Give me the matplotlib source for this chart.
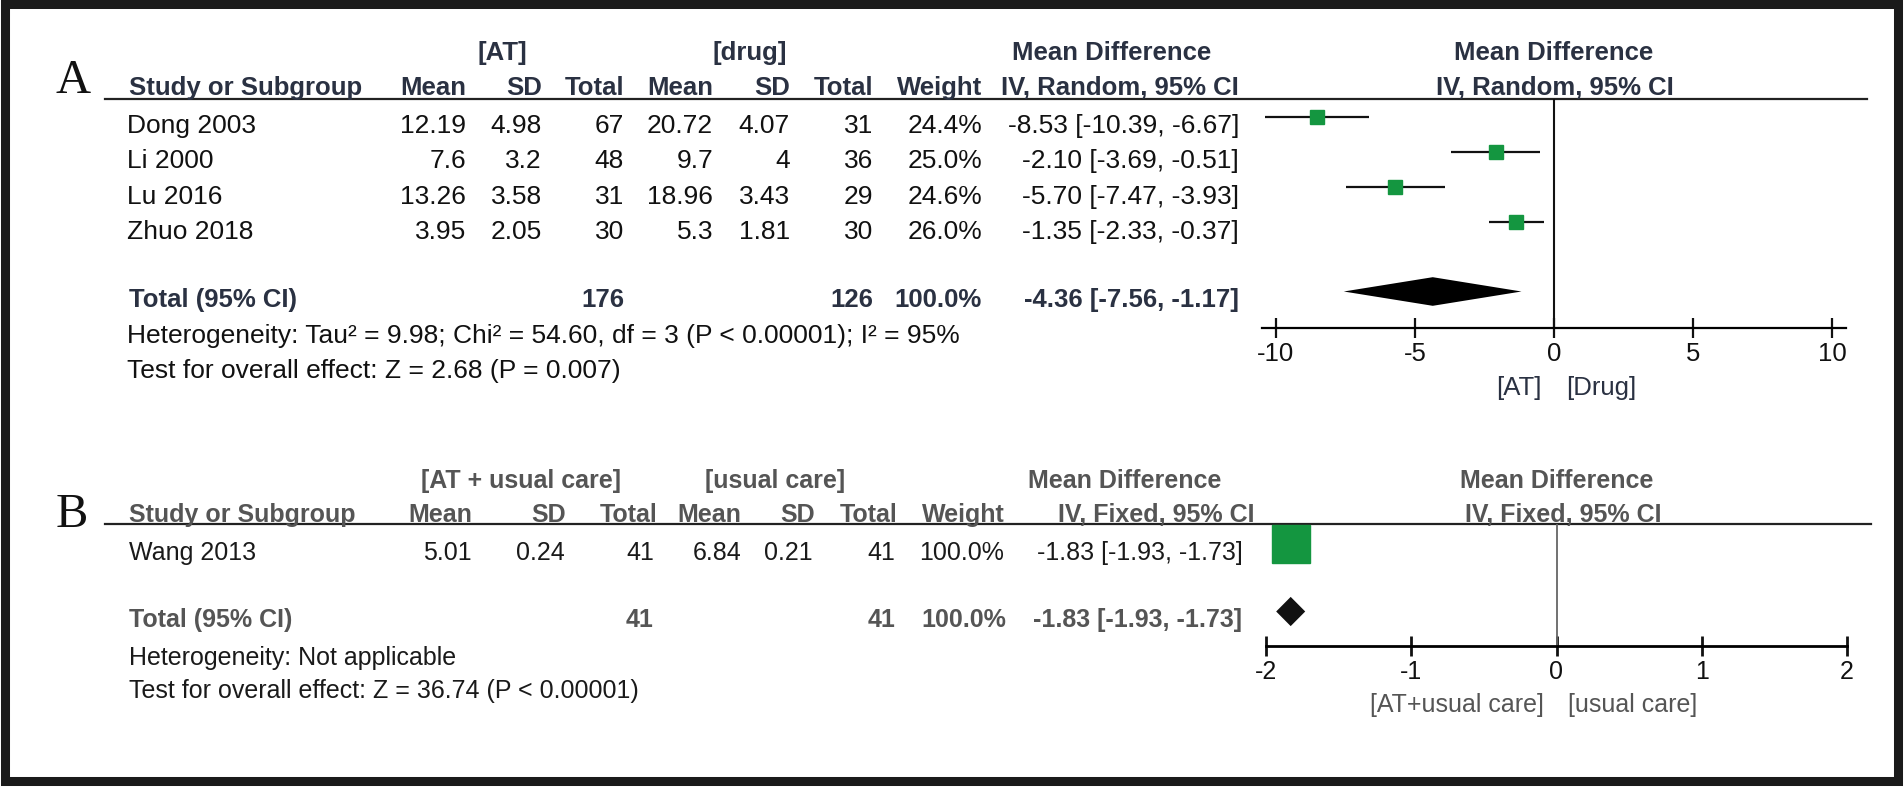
import matplotlib
matplotlib.use("Agg")
import matplotlib.pyplot as plt
from matplotlib.patches import Rectangle

plt.rcParams['font.family'] = ['Liberation Sans', 'DejaVu Sans']
plt.rcParams['axes.unicode_minus'] = False

# Panel A data
studies_a = ['Dong 2003', 'Li 2000', 'Lu 2016', 'Zhuo 2018']
at_mean = [12.19, 7.6, 13.26, 3.95]
at_sd = [4.98, 3.2, 3.58, 2.05]
at_n = [67, 48, 31, 30]
drug_mean = [20.72, 9.7, 18.96, 5.3]
drug_sd = [4.07, 4, 3.43, 1.81]
drug_n = [31, 36, 29, 30]
weight_a = [24.4, 25.0, 24.6, 26.0]
md_a = [-8.53, -2.10, -5.70, -1.35]
lo_a = [-10.39, -3.69, -7.47, -2.33]
hi_a = [-6.67, -0.51, -3.93, -0.37]
total_a = dict(n1=176, n2=126, w=100.0, md=-4.36, lo=-7.56, hi=-1.17)
het_a = "Heterogeneity: Tau² = 9.98; Chi² = 54.60, df = 3 (P < 0.00001); I² = 95%"
test_a = "Test for overall effect: Z = 2.68 (P = 0.007)"
ticks_a = [-10, -5, 0, 5, 10]

# Panel B data
studies_b = ['Wang 2013']
atuc_mean = [5.01]
atuc_sd = [0.24]
atuc_n = [41]
uc_mean = [6.84]
uc_sd = [0.21]
uc_n = [41]
weight_b = [100.0]
md_b = [-1.83]
lo_b = [-1.93]
hi_b = [-1.73]
total_b = dict(n1=41, n2=41, w=100.0, md=-1.83, lo=-1.93, hi=-1.73)
het_b = "Heterogeneity: Not applicable"
test_b = "Test for overall effect: Z = 36.74 (P < 0.00001)"
ticks_b = [-2, -1, 0, 1, 2]

W, H = 1904, 787
fig = plt.figure(figsize=(W / 100, H / 100), dpi=100)
bg = fig.add_axes([0, 0, 1, 1])
bg.set_xlim(0, W)
bg.set_ylim(H, 0)
bg.axis('off')

GREEN = '#149640'
HEAD_A = '#2a3142'
HEAD_B = '#555555'


def px_axes(x0, x1, ytop, ybot):
    ax = fig.add_axes([x0 / W, 1 - ybot / H, (x1 - x0) / W, (ybot - ytop) / H])
    ax.patch.set_alpha(0)
    for s in ['top', 'left', 'right']:
        ax.spines[s].set_visible(False)
    ax.set_yticks([])
    return ax


def fmt_ci(m, l, h):
    return f"{m:.2f} [{l:.2f}, {h:.2f}]"


def txt(x, y, s, ha='left', size=18.5, color='#111111', bold=False, **kw):
    bg.text(x, y, s, ha=ha, va='baseline', fontsize=size, color=color,
            fontweight='bold' if bold else 'normal', **kw)


# ---------------- Panel A ----------------
txt(56, 93, 'A', size=35, color='#111111', family='Liberation Serif')
for s, x in [('[AT]', 502), ('[drug]', 750), ('Mean Difference', 1112), ('Mean Difference', 1554)]:
    txt(x, 60, s, ha='center', color=HEAD_A, bold=True)
txt(129, 95, 'Study or Subgroup', color=HEAD_A, bold=True)
cols_a = [466, 542, 624, 713, 790, 873, 982, 1239]
for s, x in zip(['Mean', 'SD', 'Total', 'Mean', 'SD', 'Total', 'Weight', 'IV, Random, 95% CI'], cols_a):
    txt(x, 95, s, ha='right', color=HEAD_A, bold=True)
txt(1555, 95, 'IV, Random, 95% CI', ha='center', color=HEAD_A, bold=True)
bg.plot([105, 1867], [99, 99], color='#222222', lw=1.6)

for i, name in enumerate(studies_a):
    yb = 133 + i * 35.3
    txt(127, yb, name, size=19)
    vals = [str(at_mean[i]), str(at_sd[i]), str(at_n[i]), str(drug_mean[i]),
            str(drug_sd[i]), str(drug_n[i]), f"{weight_a[i]:.1f}%",
            fmt_ci(md_a[i], lo_a[i], hi_a[i])]
    for v, x in zip(vals, cols_a):
        txt(x, yb, v, ha='right', size=19)

txt(129, 307, 'Total (95% CI)', color=HEAD_A, bold=True)
for v, x in [(str(total_a['n1']), 624), (str(total_a['n2']), 873),
             (f"{total_a['w']:.1f}%", 982),
             (fmt_ci(total_a['md'], total_a['lo'], total_a['hi']), 1239)]:
    txt(x, 307, v, ha='right', color=HEAD_A, bold=True)
txt(127, 343, het_a, size=19)
txt(127, 378, test_a, size=19)

axa = px_axes(1262, 1846, 99, 328)
u = 34.9
axa.set_xlim(-10.5, 10.5)
axa.set_ylim((328 - 117) / u, -18 / u)
rows_a = list(range(len(studies_a)))
axa.hlines(rows_a, lo_a, hi_a, color='#111111', lw=1.6)
for r, m, w in zip(rows_a, md_a, weight_a):
    axa.plot(m, r, 's', ms=10 * (w / 25) ** 0.5, color=GREEN, mec=GREEN)
tr = 5
axa.fill([total_a['lo'], total_a['md'], total_a['hi'], total_a['md']],
         [tr, tr - 0.41, tr, tr + 0.41], color='black', lw=0)
axa.axvline(0, color='#111111', lw=1.5)
axa.spines['bottom'].set_linewidth(1.6)
axa.set_xticks(ticks_a)
axa.set_xticklabels([str(t) for t in ticks_a])
axa.tick_params(axis='x', direction='inout', length=14, width=1.6, pad=3,
                labelsize=18.5, colors='#111111')
txt(1542, 395, '[AT]', ha='right', color=HEAD_A)
txt(1566, 395, '[Drug]', ha='left', color=HEAD_A)

# ---------------- Panel B ----------------
txt(56, 527, 'B', size=35, color='#111111', family='Liberation Serif')
for s, x in [('[AT + usual care]', 521), ('[usual care]', 775), ('Mean Difference', 1125), ('Mean Difference', 1557)]:
    txt(x, 488, s, ha='center', color=HEAD_B, bold=True, size=18)
txt(129, 522, 'Study or Subgroup', color=HEAD_B, bold=True, size=18)
cols_b = [472, 566, 657, 741, 815, 897, 1005, 1255]
for s, x in zip(['Mean', 'SD', 'Total', 'Mean', 'SD', 'Total', 'Weight', 'IV, Fixed, 95% CI'], cols_b):
    txt(x, 522, s, ha='right', color=HEAD_B, bold=True, size=18)
txt(1563, 522, 'IV, Fixed, 95% CI', ha='center', color=HEAD_B, bold=True, size=18)
bg.plot([105, 1871], [524, 524], color='#222222', lw=1.6)

for i, name in enumerate(studies_b):
    yb = 560 + i * 34
    txt(129, yb, name, size=18, color='#1a1a1a')
    vals = [str(atuc_mean[i]), str(atuc_sd[i]), str(atuc_n[i]), str(uc_mean[i]),
            str(uc_sd[i]), str(uc_n[i]), f"{weight_b[i]:.1f}%",
            fmt_ci(md_b[i], lo_b[i], hi_b[i])]
    for v, x in zip(vals, [472, 565, 654, 741, 813, 895, 1004, 1243]):
        txt(x, yb, v, ha='right', size=18, color='#1a1a1a')

txt(129, 627, 'Total (95% CI)', color=HEAD_B, bold=True, size=18)
for v, x in [(str(total_b['n1']), 654), (str(total_b['n2']), 895),
             (f"{total_b['w']:.1f}%", 1006),
             (fmt_ci(total_b['md'], total_b['lo'], total_b['hi']), 1242)]:
    txt(x, 627, v, ha='right', color=HEAD_B, bold=True, size=18)
txt(129, 665, het_b, size=18, color='#1a1a1a')
txt(129, 698, test_b, size=18, color='#1a1a1a')

axb = px_axes(1266, 1847, 524, 646)
ub = 34
axb.set_xlim(-2, 2)
axb.set_ylim((646 - 543.5) / ub, -19.5 / ub)
rows_b = list(range(len(studies_b)))
axb.hlines(rows_b, lo_b, hi_b, color='#111111', lw=1.6)
for r, m, w in zip(rows_b, md_b, weight_b):
    axb.plot(m, r, 's', ms=28 * (w / 100) ** 0.5, color=GREEN, mec=GREEN, clip_on=False)
trb = 2
axb.fill([total_b['lo'], total_b['md'], total_b['hi'], total_b['md']],
         [trb, trb - 0.43, trb, trb + 0.43], color='#111111', lw=0)
axb.axvline(0, color='#666666', lw=1.3)
axb.spines['bottom'].set_linewidth(2)
axb.set_xticks(ticks_b)
axb.set_xticklabels([str(t) for t in ticks_b])
axb.tick_params(axis='x', direction='inout', length=14, width=2, pad=3,
                labelsize=18, colors='#111111')
txt(1544, 712, '[AT+usual care]', ha='right', color=HEAD_B, size=18)
txt(1568, 712, '[usual care]', ha='left', color=HEAD_B, size=18)

# outer frame
bg.add_patch(Rectangle((4.5, 4), 1893, 777, fill=False, lw=6.5, edgecolor='#1a1a1a'))

fig.savefig('out.png', dpi=100)
